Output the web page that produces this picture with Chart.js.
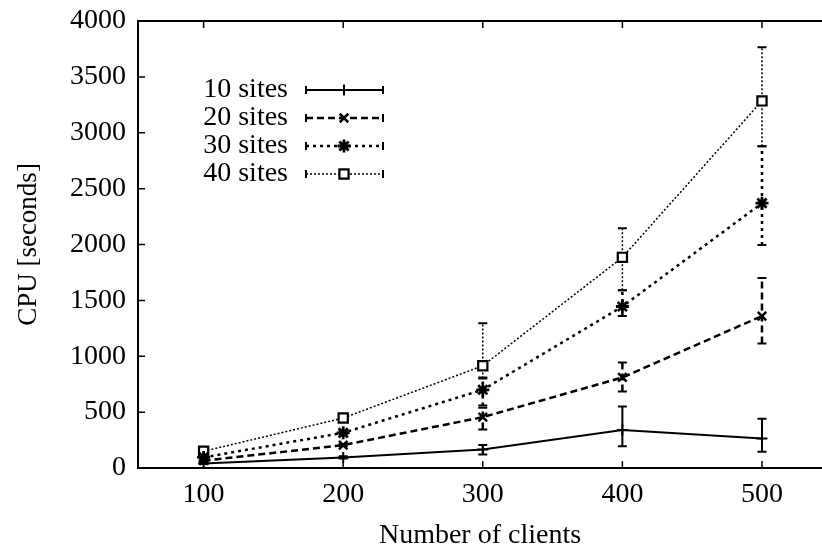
<!DOCTYPE html>
<html><head><meta charset="utf-8">
<script src="https://cdn.jsdelivr.net/npm/chart.js@4/dist/chart.umd.min.js"></script>
<style>html,body{margin:0;padding:0;background:#fff}#wrap{width:822px;height:552px}</style>
</head><body><div id="wrap"><canvas id="c" width="822" height="552"></canvas></div>
<script>
// ---- data ----
const clients = [100, 200, 300, 400, 500];
const seriesLabels = ['10 sites', '20 sites', '30 sites', '40 sites'];
const cpu10 = [40, 95, 165, 340, 265];
const cpu20 = [65, 205, 455, 810, 1360];
const cpu30 = [95, 315, 700, 1445, 2370];
const cpu40 = [150, 447, 915, 1885, 3285];
const low10 = [35, 85, 120, 195, 145];
const high10 = [45, 105, 205, 550, 440];
const low20 = [60, 195, 345, 685, 1115];
const high20 = [70, 215, 540, 945, 1700];
const low30 = [90, 300, 560, 1360, 1995];
const high30 = [100, 330, 810, 1590, 2880];
const low40 = [140, 430, 800, 1590, 2880];
const high40 = [160, 465, 1295, 2145, 3765];
const xTicks = [100, 200, 300, 400, 500];
const yTicks = [0, 500, 1000, 1500, 2000, 2500, 3000, 3500, 4000];
const xTitle = 'Number of clients';
const yTitle = 'CPU [seconds]';

const FONT = 'Liberation Serif';
const values = [cpu10, cpu20, cpu30, cpu40];
const lows = [low10, low20, low30, low40];
const highs = [high10, high20, high30, high40];
const styles = [
  {dash: [], width: 2, point: 'cross', r: 5.5, pw: 2},
  {dash: [7, 4], width: 2.5, point: 'crossRot', r: 6, pw: 2.5},
  {dash: [3, 4], width: 2.5, point: 'star', r: 6.5, pw: 2.8},
  {dash: [2, 2], width: 1.5, point: 'rect', r: 6.5, pw: 2.2}
];

const datasets = values.map((v, i) => ({
  label: seriesLabels[i],
  data: clients.map((x, j) => ({x: x, y: v[j]})),
  low: lows[i], high: highs[i],
  borderColor: '#000', backgroundColor: '#fff',
  borderWidth: styles[i].width, borderDash: styles[i].dash,
  pointStyle: styles[i].point, pointRadius: styles[i].r,
  pointBorderWidth: styles[i].pw, pointBorderColor: '#000',
  pointBackgroundColor: '#fff', tension: 0, fill: false
}));

const framePlugin = {
  id: 'frame',
  beforeDatasetsDraw(chart) {
    const {ctx, chartArea: a, scales} = chart;
    const W = chart.width;
    ctx.save();
    ctx.strokeStyle = '#000';
    ctx.lineWidth = 2;
    ctx.setLineDash([]);
    ctx.beginPath();
    ctx.moveTo(W, a.top); ctx.lineTo(a.left, a.top);
    ctx.lineTo(a.left, a.bottom); ctx.lineTo(W, a.bottom);
    ctx.stroke();
    ctx.lineWidth = 1.5;
    ctx.beginPath();
    yTicks.forEach(v => {
      const y = scales.y.getPixelForValue(v);
      ctx.moveTo(a.left, y); ctx.lineTo(a.left + 7, y);
    });
    xTicks.forEach(v => {
      const x = scales.x.getPixelForValue(v);
      ctx.moveTo(x, a.bottom); ctx.lineTo(x, a.bottom - 7);
      ctx.moveTo(x, a.top); ctx.lineTo(x, a.top + 7);
    });
    ctx.stroke();
    // error bars
    chart.data.datasets.forEach(ds => {
      ds.data.forEach((p, j) => {
        const x = scales.x.getPixelForValue(p.x);
        const y1 = scales.y.getPixelForValue(ds.low[j]);
        const y2 = scales.y.getPixelForValue(ds.high[j]);
        ctx.lineWidth = ds.borderWidth;
        ctx.setLineDash(ds.borderDash);
        ctx.beginPath();
        ctx.moveTo(x, y1); ctx.lineTo(x, y2); ctx.stroke();
        ctx.setLineDash([]);
        ctx.lineWidth = 2;
        ctx.beginPath();
        ctx.moveTo(x - 4.5, y1); ctx.lineTo(x + 4.5, y1);
        ctx.moveTo(x - 4.5, y2); ctx.lineTo(x + 4.5, y2);
        ctx.stroke();
      });
    });
    ctx.restore();
  },
  afterDraw(chart) {
    const {ctx} = chart;
    ctx.save();
    ctx.font = '28px "' + FONT + '"';
    ctx.textAlign = 'right';
    ctx.textBaseline = 'middle';
    chart.data.datasets.forEach((ds, i) => {
      const y = 90 + i * 28;
      ctx.fillStyle = '#000';
      ctx.fillText(ds.label, 288, y);
      ctx.strokeStyle = '#000';
      ctx.lineWidth = ds.borderWidth;
      ctx.setLineDash(ds.borderDash);
      ctx.beginPath(); ctx.moveTo(306, y); ctx.lineTo(383, y); ctx.stroke();
      ctx.setLineDash([]);
      ctx.lineWidth = 2;
      ctx.beginPath();
      ctx.moveTo(306, y - 4); ctx.lineTo(306, y + 4);
      ctx.moveTo(383, y - 4); ctx.lineTo(383, y + 4);
      ctx.stroke();
      ctx.fillStyle = '#fff';
      ctx.lineWidth = ds.pointBorderWidth;
      Chart.helpers.drawPoint(ctx, {
        pointStyle: ds.pointStyle, radius: ds.pointRadius, rotation: 0,
        borderWidth: ds.pointBorderWidth
      }, 344, y);
    });
    ctx.restore();
  }
};

new Chart(document.getElementById('c'), {
  type: 'line',
  data: {datasets: datasets},
  options: {
    responsive: false, animation: false, devicePixelRatio: 1,
    layout: {padding: {top: 21, left: 0, right: 0, bottom: 0}, autoPadding: false},
    plugins: {legend: {display: false}, tooltip: {enabled: false}},
    scales: {
      x: {
        type: 'linear', min: 53, max: 543,
        afterBuildTicks: s => { s.ticks = xTicks.map(v => ({value: v})); },
        afterFit: s => { s.height = 84; s.paddingLeft = 0; s.paddingRight = 0; },
        grid: {display: false, drawTicks: false}, border: {display: false},
        ticks: {color: '#000', padding: 10, font: {family: FONT, size: 28}, maxRotation: 0, callback: v => String(v)},
        title: {display: true, text: xTitle, color: '#000', font: {family: FONT, size: 28}, padding: {top: 0, bottom: 0}}
      },
      y: {
        min: 0, max: 4000,
        afterBuildTicks: s => { s.ticks = yTicks.map(v => ({value: v})); },
        afterFit: s => { s.width = 138; s.paddingTop = 0; s.paddingBottom = 0; },
        grid: {display: false, drawTicks: false}, border: {display: false},
        ticks: {color: '#000', padding: 12, font: {family: FONT, size: 28}, callback: v => String(v)},
        title: {display: true, text: yTitle, color: '#000', font: {family: FONT, size: 27}, padding: {top: 13, bottom: 0}}
      }
    }
  },
  plugins: [framePlugin]
});
</script></body></html>
